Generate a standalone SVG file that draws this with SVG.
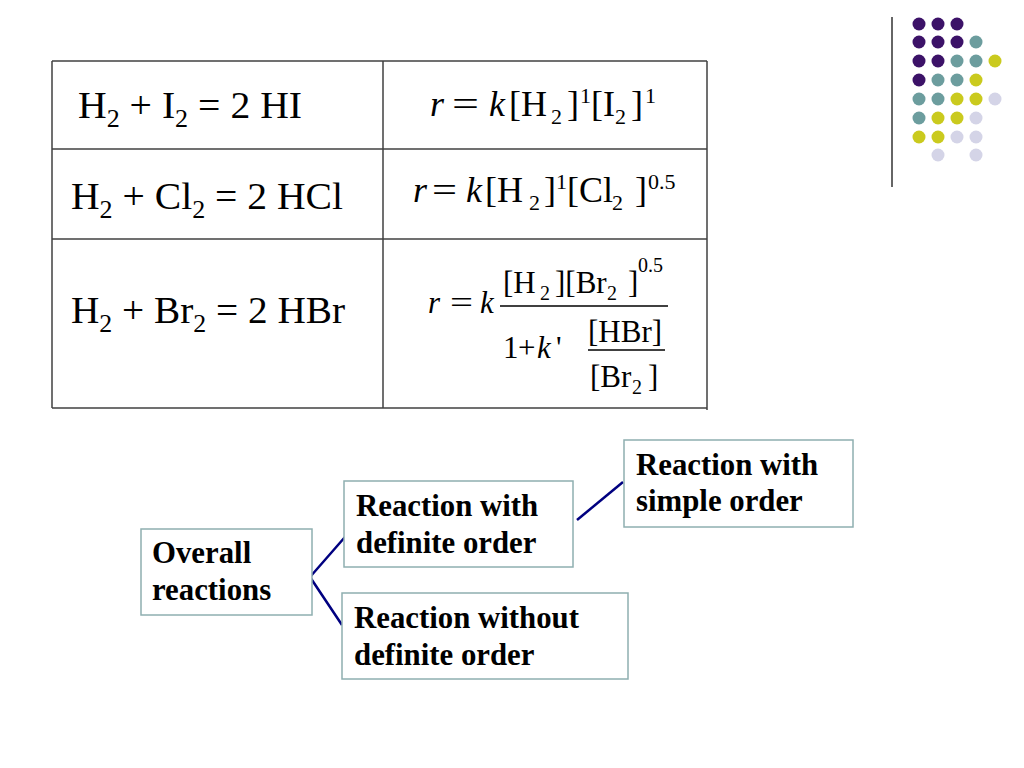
<svg xmlns="http://www.w3.org/2000/svg" width="1024" height="768" viewBox="0 0 1024 768">
<style>
.tl{stroke:#404040;stroke-width:1.5;fill:none}
.eq{font-family:"Liberation Serif","Times New Roman",serif;font-size:38px;fill:#000}
.m{font-family:"Liberation Serif","Times New Roman",serif;font-size:36px;fill:#000}
.m3{font-family:"Liberation Serif","Times New Roman",serif;font-size:31px;fill:#000}
.it{font-style:italic}
.s{font-size:22px}
.s3{font-size:20px}
.sb{font-size:25px}
.box{fill:#fff;stroke:#8EAFB0;stroke-width:1.5}
.bt{font-family:"Liberation Serif","Times New Roman",serif;font-size:30.8px;font-weight:bold;fill:#000}
.con{stroke:#000080;stroke-width:2.5;fill:none}
.p{fill:#3C1268}.t{fill:#6C9D9E}.y{fill:#CACA1E}.l{fill:#D4D4E7}
</style>
<g id="table">
<line class="tl" x1="52" y1="61" x2="707" y2="61"/>
<line class="tl" x1="52" y1="149" x2="707" y2="149"/>
<line class="tl" x1="52" y1="239" x2="707" y2="239"/>
<line class="tl" x1="52" y1="408" x2="707" y2="408"/>
<line class="tl" x1="52" y1="61" x2="52" y2="408"/>
<line class="tl" x1="383" y1="61" x2="383" y2="408"/>
<line class="tl" x1="707" y1="61" x2="707" y2="410"/>
</g>
<g id="row1">
<text class="eq" x="78" y="118" textLength="224" lengthAdjust="spacingAndGlyphs">H<tspan class="sb" dy="9">2</tspan><tspan dy="-9"> + I</tspan><tspan class="sb" dy="9">2</tspan><tspan dy="-9"> = 2 HI</tspan></text>
<text class="m it" x="430" y="116">r</text>
<text class="m" x="452" y="116" textLength="27" lengthAdjust="spacingAndGlyphs">=</text>
<text class="m" y="116"><tspan class="it" x="489">k</tspan><tspan x="509">[H</tspan><tspan class="s" x="551" y="124">2</tspan><tspan x="567" y="116">]</tspan><tspan class="s" x="580" y="103">1</tspan><tspan x="591" y="116">[I</tspan><tspan class="s" x="615" y="124">2</tspan><tspan x="631" y="116">]</tspan><tspan class="s" x="645" y="103">1</tspan></text>
</g>
<g id="row2">
<text class="eq" x="71" y="209" textLength="272" lengthAdjust="spacingAndGlyphs">H<tspan class="sb" dy="9">2</tspan><tspan dy="-9"> + Cl</tspan><tspan class="sb" dy="9">2</tspan><tspan dy="-9"> = 2 HCl</tspan></text>
<text class="m it" x="413" y="202">r</text>
<text class="m" x="432" y="202" textLength="25" lengthAdjust="spacingAndGlyphs">=</text>
<text class="m" y="202"><tspan class="it" x="466">k</tspan><tspan x="485">[H</tspan><tspan class="s" x="529" y="210">2</tspan><tspan x="544" y="202">]</tspan><tspan class="s" x="556" y="189">1</tspan><tspan x="567" y="202">[Cl</tspan><tspan class="s" x="612" y="210">2</tspan><tspan x="635" y="202">]</tspan><tspan class="s" x="648" y="189">0.5</tspan></text>
</g>
<g id="row3">
<text class="eq" x="71" y="323" textLength="274" lengthAdjust="spacingAndGlyphs">H<tspan class="sb" dy="9">2</tspan><tspan dy="-9"> + Br</tspan><tspan class="sb" dy="9">2</tspan><tspan dy="-9"> = 2 HBr</tspan></text>
<text class="m3 it" x="428" y="313">r</text>
<text class="m3" x="450" y="313" textLength="23" lengthAdjust="spacingAndGlyphs">=</text>
<text class="m3 it" x="480" y="313">k</text>
<line x1="500" y1="306" x2="668" y2="306" stroke="#000" stroke-width="1.5"/>
<text class="m3" y="293"><tspan x="503">[H</tspan><tspan class="s3" x="540" y="300">2</tspan><tspan x="555" y="293">][Br</tspan><tspan class="s3" x="607" y="300">2</tspan><tspan x="628" y="293">]</tspan><tspan class="s3" x="638" y="272">0.5</tspan></text>
<text class="m3" y="358"><tspan x="503">1</tspan><tspan x="518">+</tspan><tspan class="it" x="537">k</tspan><tspan x="556">'</tspan></text>
<text class="m3" x="588" y="342">[HBr]</text>
<line x1="588" y1="350" x2="665" y2="350" stroke="#000" stroke-width="1.5"/>
<text class="m3" y="387"><tspan x="590">[Br</tspan><tspan class="s3" x="632" y="394">2</tspan><tspan x="648" y="387">]</tspan></text>
</g>
<g id="dots">
<line x1="892" y1="17" x2="892" y2="187" stroke="#333" stroke-width="1.5"/>
<circle class="p" cx="919" cy="24" r="6.5"/><circle class="p" cx="938" cy="24" r="6.5"/><circle class="p" cx="957" cy="24" r="6.5"/>
<circle class="p" cx="919" cy="42" r="6.5"/><circle class="p" cx="938" cy="42" r="6.5"/><circle class="p" cx="957" cy="42" r="6.5"/><circle class="t" cx="976" cy="42" r="6.5"/>
<circle class="p" cx="919" cy="61" r="6.5"/><circle class="p" cx="938" cy="61" r="6.5"/><circle class="t" cx="957" cy="61" r="6.5"/><circle class="t" cx="976" cy="61" r="6.5"/><circle class="y" cx="995" cy="61" r="6.5"/>
<circle class="p" cx="919" cy="80" r="6.5"/><circle class="t" cx="938" cy="80" r="6.5"/><circle class="t" cx="957" cy="80" r="6.5"/><circle class="y" cx="976" cy="80" r="6.5"/>
<circle class="t" cx="919" cy="99" r="6.5"/><circle class="t" cx="938" cy="99" r="6.5"/><circle class="y" cx="957" cy="99" r="6.5"/><circle class="y" cx="976" cy="99" r="6.5"/><circle class="l" cx="995" cy="99" r="6.5"/>
<circle class="t" cx="919" cy="118" r="6.5"/><circle class="y" cx="938" cy="118" r="6.5"/><circle class="y" cx="957" cy="118" r="6.5"/><circle class="l" cx="976" cy="118" r="6.5"/>
<circle class="y" cx="919" cy="137" r="6.5"/><circle class="y" cx="938" cy="137" r="6.5"/><circle class="l" cx="957" cy="137" r="6.5"/><circle class="l" cx="976" cy="137" r="6.5"/>
<circle class="l" cx="938" cy="155" r="6.5"/><circle class="l" cx="976" cy="155" r="6.5"/>
</g>
<g id="connectors">
<path class="con" d="M345,537 L310,577 L342,625"/>
<path class="con" d="M577,520 L623,482"/>
</g>
<g id="overall">
<rect class="box" x="141" y="529" width="171" height="86"/>
<text class="bt" x="152" y="563">Overall</text>
<text class="bt" x="152" y="600">reactions</text>
</g>
<g id="definite">
<rect class="box" x="344" y="481" width="229" height="86"/>
<text class="bt" x="356" y="516">Reaction with</text>
<text class="bt" x="356" y="553">definite order</text>
</g>
<g id="without">
<rect class="box" x="342" y="593" width="286" height="86"/>
<text class="bt" x="354" y="628">Reaction without</text>
<text class="bt" x="354" y="665">definite order</text>
</g>
<g id="simple">
<rect class="box" x="624" y="440" width="229" height="87"/>
<text class="bt" x="636" y="475">Reaction with</text>
<text class="bt" x="636" y="511">simple order</text>
</g>
</svg>
